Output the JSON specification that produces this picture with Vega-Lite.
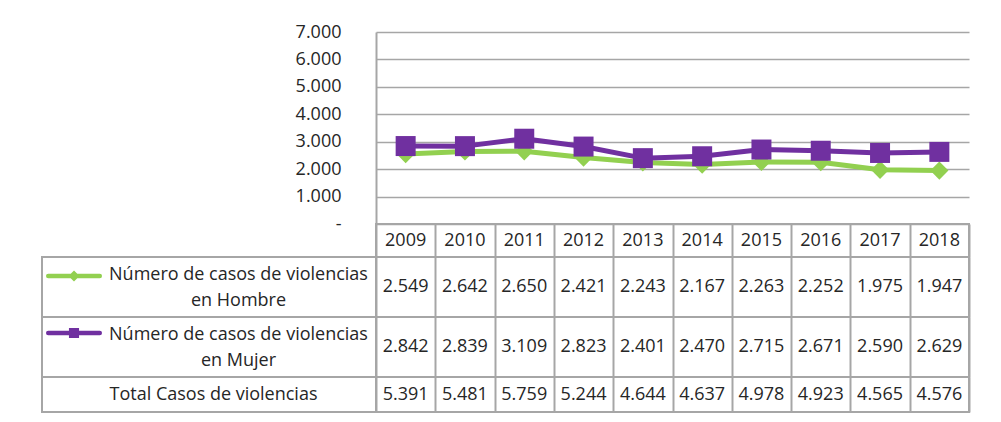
{
  "$schema": "https://vega.github.io/schema/vega-lite/v6.json",
  "background": "white",
  "padding": {"left": 41, "top": 23, "right": 5, "bottom": 5},
  "config": {
    "locale": {"number": {"decimal": ",", "thousands": ".", "grouping": [3], "currency": ["", ""]}},
    "view": {"stroke": null},
    "font": "Open Sans",
    "text": {"font": "Open Sans", "fontSize": 18, "color": "#262626"},
    "axis": {"labelFont": "Open Sans", "labelFontSize": 18, "labelColor": "#262626"}
  },
  "datasets": {
    "d": [
      {"year": "2009", "serie": "Hombre", "value": 2549},
      {"year": "2010", "serie": "Hombre", "value": 2642},
      {"year": "2011", "serie": "Hombre", "value": 2650},
      {"year": "2012", "serie": "Hombre", "value": 2421},
      {"year": "2013", "serie": "Hombre", "value": 2243},
      {"year": "2014", "serie": "Hombre", "value": 2167},
      {"year": "2015", "serie": "Hombre", "value": 2263},
      {"year": "2016", "serie": "Hombre", "value": 2252},
      {"year": "2017", "serie": "Hombre", "value": 1975},
      {"year": "2018", "serie": "Hombre", "value": 1947},
      {"year": "2009", "serie": "Mujer", "value": 2842},
      {"year": "2010", "serie": "Mujer", "value": 2839},
      {"year": "2011", "serie": "Mujer", "value": 3109},
      {"year": "2012", "serie": "Mujer", "value": 2823},
      {"year": "2013", "serie": "Mujer", "value": 2401},
      {"year": "2014", "serie": "Mujer", "value": 2470},
      {"year": "2015", "serie": "Mujer", "value": 2715},
      {"year": "2016", "serie": "Mujer", "value": 2671},
      {"year": "2017", "serie": "Mujer", "value": 2590},
      {"year": "2018", "serie": "Mujer", "value": 2629},
      {"year": "2009", "serie": "Total", "value": 5391},
      {"year": "2010", "serie": "Total", "value": 5481},
      {"year": "2011", "serie": "Total", "value": 5759},
      {"year": "2012", "serie": "Total", "value": 5244},
      {"year": "2013", "serie": "Total", "value": 4644},
      {"year": "2014", "serie": "Total", "value": 4637},
      {"year": "2015", "serie": "Total", "value": 4978},
      {"year": "2016", "serie": "Total", "value": 4923},
      {"year": "2017", "serie": "Total", "value": 4565},
      {"year": "2018", "serie": "Total", "value": 4576}
    ]
  },
  "columns": 2,
  "spacing": 0,
  "bounds": "flush",
  "align": "each",
  "concat": [
    {
      "width": 334, "height": 192,
      "data": {"values": []},
      "mark": "point",
      "encoding": {}
    },
    {
      "width": 593, "height": 192,
      "data": {"name": "d"},
      "encoding": {
        "x": {"field": "year", "type": "ordinal", "scale": {"paddingInner": 0, "paddingOuter": 0}, "axis": null},
        "y": {
          "field": "value", "type": "quantitative",
          "scale": {"domain": [0, 7000]},
          "axis": {
            "title": null,
            "values": [0, 1000, 2000, 3000, 4000, 5000, 6000, 7000],
            "grid": true, "gridColor": "#a6a6a6", "gridWidth": 1.5,
            "ticks": false, "tickSize": 0,
            "domain": true, "domainColor": "#a6a6a6", "domainWidth": 2,
            "labelPadding": 35,
            "labelExpr": "datum.value === 0 ? '-\u00a0\u00a0' : replace(format(datum.value, ','), ',', '.')"
          }
        }
      },
      "layer": [
        {
          "transform": [{"filter": "datum.serie === 'Hombre'"}],
          "mark": {"type": "line", "strokeWidth": 5, "strokeJoin": "round", "strokeCap": "round"},
          "encoding": {
            "color": {
              "field": "serie", "type": "nominal",
              "scale": {"domain": ["Hombre", "Mujer"], "range": ["#92D050", "#7030A0"]},
              "legend": {
                "orient": "none", "legendX": 1.5, "legendY": 213.5,
                "direction": "vertical", "title": null, "padding": 0,
                "rowPadding": 15, "labelExpr": "''", "labelFontSize": 1, "labelOffset": 0,
                "symbolSize": 3136, "symbolStrokeWidth": 4.5, "symbolOffset": 0,
                "encode": {
                  "symbols": {
                    "update": {
                      "shape": {"signal": "datum.value === 'Hombre' ? 'M-0.92,0H0.92M-0.085,0L0,-0.085L0.085,0L0,0.085Z' : 'M-0.92,0H0.92M-0.1,-0.1H0.1V0.1H-0.1Z'"},
                      "fill": {"signal": "datum.value === 'Hombre' ? '#92D050' : '#7030A0'"},
                      "stroke": {"signal": "datum.value === 'Hombre' ? '#92D050' : '#7030A0'"},
                      "strokeWidth": {"value": 4.5},
                      "strokeCap": {"value": "round"},
                      "opacity": {"value": 1}
                    }
                  }
                }
              }
            }
          }
        },
        {
          "transform": [{"filter": "datum.serie === 'Hombre'"}],
          "mark": {"type": "point", "filled": true, "shape": "diamond", "size": 330, "color": "#92D050", "opacity": 1}
        },
        {
          "transform": [{"filter": "datum.serie === 'Mujer'"}],
          "mark": {"type": "line", "strokeWidth": 5, "strokeJoin": "round", "strokeCap": "round"},
          "encoding": {
            "color": {"field": "serie", "type": "nominal"}
          }
        },
        {
          "transform": [{"filter": "datum.serie === 'Mujer'"}],
          "mark": {"type": "point", "filled": true, "shape": "square", "size": 400, "color": "#7030A0", "opacity": 1}
        }
      ]
    },
    {
      "width": 334, "height": 33,
      "data": {"values": []},
      "mark": "point",
      "encoding": {}
    },
    {
      "width": 593, "height": 33,
      "view": {"stroke": "#a6a6a6", "strokeWidth": 2},
      "data": {"name": "d"},
      "transform": [{"filter": "datum.serie === 'Total'"}],
      "mark": {"type": "text"},
      "encoding": {
        "x": {"field": "year", "type": "ordinal", "scale": {"paddingInner": 0, "paddingOuter": 0},
              "axis": {"title": null, "grid": true, "tickBand": "extent", "gridColor": "#a6a6a6", "gridWidth": 2, "labels": false, "ticks": false, "domain": false}},
        "text": {"field": "year"}
      }
    },
    {
      "width": 334, "height": 60,
      "view": {"stroke": "#a6a6a6", "strokeWidth": 2},
      "data": {"values": []},
      "mark": "point",
      "encoding": {}
    },
    {
      "width": 593, "height": 60,
      "view": {"stroke": "#a6a6a6", "strokeWidth": 2},
      "data": {"name": "d"},
      "transform": [{"filter": "datum.serie === 'Hombre'"}],
      "mark": {"type": "text"},
      "encoding": {
        "x": {"field": "year", "type": "ordinal", "scale": {"paddingInner": 0, "paddingOuter": 0},
              "axis": {"title": null, "grid": true, "tickBand": "extent", "gridColor": "#a6a6a6", "gridWidth": 2, "labels": false, "ticks": false, "domain": false}},
        "y": {"field": "serie", "type": "nominal",
              "axis": {"title": null, "ticks": false, "tickSize": 0, "domain": false, "labelAlign": "center", "labelBaseline": "middle", "labelPadding": 138, "labelOffset": -13, "labelLineHeight": 26, "labelLimit": 500, "labelExpr": "['Número de casos de violencias', 'en Hombre']"}},
        "text": {"field": "value", "type": "quantitative", "format": ","}
      }
    },
    {
      "width": 334, "height": 60,
      "view": {"stroke": "#a6a6a6", "strokeWidth": 2},
      "data": {"values": []},
      "mark": "point",
      "encoding": {}
    },
    {
      "width": 593, "height": 60,
      "view": {"stroke": "#a6a6a6", "strokeWidth": 2},
      "data": {"name": "d"},
      "transform": [{"filter": "datum.serie === 'Mujer'"}],
      "mark": {"type": "text"},
      "encoding": {
        "x": {"field": "year", "type": "ordinal", "scale": {"paddingInner": 0, "paddingOuter": 0},
              "axis": {"title": null, "grid": true, "tickBand": "extent", "gridColor": "#a6a6a6", "gridWidth": 2, "labels": false, "ticks": false, "domain": false}},
        "y": {"field": "serie", "type": "nominal",
              "axis": {"title": null, "ticks": false, "tickSize": 0, "domain": false, "labelAlign": "center", "labelBaseline": "middle", "labelPadding": 138, "labelOffset": -13, "labelLineHeight": 26, "labelLimit": 500, "labelExpr": "['Número de casos de violencias', 'en Mujer']"}},
        "text": {"field": "value", "type": "quantitative", "format": ","}
      }
    },
    {
      "width": 334, "height": 35,
      "view": {"stroke": "#a6a6a6", "strokeWidth": 2},
      "data": {"values": []},
      "mark": "point",
      "encoding": {}
    },
    {
      "width": 593, "height": 35,
      "view": {"stroke": "#a6a6a6", "strokeWidth": 2},
      "data": {"name": "d"},
      "transform": [{"filter": "datum.serie === 'Total'"}],
      "mark": {"type": "text"},
      "encoding": {
        "x": {"field": "year", "type": "ordinal", "scale": {"paddingInner": 0, "paddingOuter": 0},
              "axis": {"title": null, "grid": true, "tickBand": "extent", "gridColor": "#a6a6a6", "gridWidth": 2, "labels": false, "ticks": false, "domain": false}},
        "y": {"field": "serie", "type": "nominal",
              "axis": {"title": null, "ticks": false, "tickSize": 0, "domain": false, "labelAlign": "center", "labelBaseline": "middle", "labelPadding": 163, "labelLimit": 500, "labelExpr": "'Total Casos de violencias'"}},
        "text": {"field": "value", "type": "quantitative", "format": ","}
      }
    }
  ]
}
